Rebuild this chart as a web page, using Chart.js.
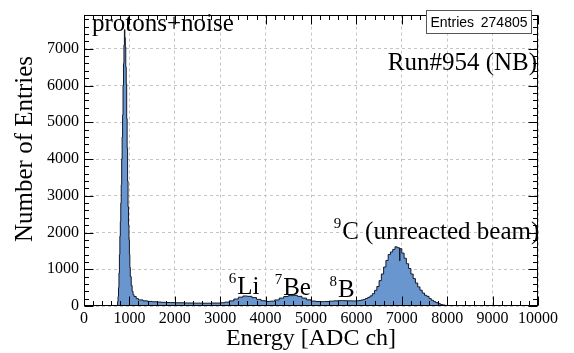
<!DOCTYPE html>
<html>
<head>
<meta charset="utf-8">
<title>Run#954 energy spectrum</title>
<script src="https://cdn.jsdelivr.net/npm/chart.js@4.4.0/dist/chart.umd.min.js"></script>
<style>
    html, body { margin: 0; padding: 0; background: #fff; }
    #wrap { width: 574px; height: 353px; position: relative; }
</style>
</head>
<body>
<div id="wrap"><canvas id="spectrum"></canvas></div>
<script>
// histogram: left edge of each bin [ADC ch] and its content
const binLow = [
    0, 720, 740, 750, 760, 770, 780, 790, 800, 810,
    820, 830, 840, 850, 860, 870, 880, 890, 900, 910,
    920, 930, 940, 950, 960, 970, 980, 990, 1000, 1010,
    1020, 1040, 1060, 1080, 1100, 1150, 1200, 1300, 1400, 1500,
    1600, 1700, 1800, 1900, 2000, 2200, 2400, 2600, 2800, 3000,
    3100, 3200, 3300, 3400, 3500, 3600, 3700, 3800, 3900, 4000,
    4100, 4200, 4300, 4400, 4500, 4600, 4700, 4800, 4900, 5000,
    5100, 5200, 5300, 5400, 5500, 5600, 5700, 5800, 5900, 6000,
    6050, 6100, 6150, 6200, 6250, 6300, 6350, 6400, 6450, 6500,
    6550, 6600, 6650, 6700, 6750, 6800, 6850, 6900, 6950, 6960,
    7000, 7050, 7100, 7150, 7200, 7250, 7300, 7350, 7400, 7450,
    7500, 7550, 7600, 7650, 7700, 7750, 7800, 7850, 7900, 7950,
    8000, 8100, 8300, 8600, 9200, 10000
];
const counts = [
    0, 15, 120, 260, 500, 900, 1400, 1900, 2300, 2800,
    3300, 4000, 4600, 5200, 6000, 6600, 7100, 7520, 7300, 7050,
    6500, 6050, 5100, 4300, 3400, 2700, 2200, 1800, 1400, 1050,
    800, 560, 400, 310, 260, 200, 165, 140, 125, 115,
    108, 100, 95, 92, 88, 82, 78, 76, 80, 88,
    105, 140, 190, 240, 272, 262, 228, 180, 145, 125,
    132, 165, 215, 258, 282, 290, 262, 215, 168, 135,
    122, 118, 122, 132, 140, 146, 144, 140, 138, 142,
    150, 162, 178, 205, 235, 275, 335, 425, 530, 690,
    870, 1060, 1240, 1400, 1470, 1540, 1610, 1585, 1230, 1560,
    1440, 1300, 1150, 1020, 870, 745, 625, 520, 430, 352,
    292, 262, 200, 155, 118, 92, 64, 42, 27, 17,
    11, 7, 4, 2, 1, 0
];

const xTicks = [0, 1000, 2000, 3000, 4000, 5000, 6000, 7000, 8000, 9000, 10000];
const yTicks = [0, 1000, 2000, 3000, 4000, 5000, 6000, 7000];
const yMax = 7930;
const entries = 274805;

// text placed in data coordinates: [superscript, text, x, y, align]
const notes = [
    ["", "protons+noise", 176, 7490, "left"],
    ["", "Run#954 (NB)", 9980, 6430, "right"],
    ["6", "Li", 3190, 320, "left"],
    ["7", "Be", 4200, 293, "left"],
    ["8", "B", 5410, 240, "left"],
    ["9", "C (unreacted beam)", 5500, 1813, "left"]
];

const serif = "'Liberation Serif', 'Times New Roman', serif";

// ROOT-like frame with ticks on all four sides, plus labels and stats box
const rootFrame = {
    id: "rootFrame",
    afterDraw(chart) {
        const { ctx, chartArea: a, scales: { x, y } } = chart;
        const L = Math.round(a.left) + 0.5, R = Math.round(a.right) - 0.5;
        const T = Math.round(a.top) + 0.5, B = Math.round(a.bottom) - 0.5;

        ctx.save();
        ctx.strokeStyle = "#000";
        ctx.lineWidth = 1;
        ctx.beginPath();
        for (let v = 0; v <= 10000; v += 200) {
            const px = Math.round(x.getPixelForValue(v)) + 0.5;
            const len = v % 1000 === 0 ? 9 : 4.5;
            ctx.moveTo(px, B); ctx.lineTo(px, B - len);
            ctx.moveTo(px, T); ctx.lineTo(px, T + len);
        }
        for (let v = 0; v <= yMax; v += 200) {
            const py = Math.round(y.getPixelForValue(v)) + 0.5;
            const len = v % 1000 === 0 ? 9 : 4.5;
            ctx.moveTo(L, py); ctx.lineTo(L + len, py);
            ctx.moveTo(R, py); ctx.lineTo(R - len, py);
        }
        ctx.stroke();
        ctx.strokeRect(L, T, R - L, B - T);

        // y axis title, a bit above centre like ROOT
        ctx.fillStyle = "#000";
        ctx.save();
        ctx.translate(25, 149);
        ctx.rotate(-Math.PI / 2);
        ctx.font = "25px " + serif;
        ctx.textAlign = "center";
        ctx.textBaseline = "middle";
        ctx.fillText("Number of Entries", 0, 0);
        ctx.restore();

        // annotations
        ctx.textBaseline = "alphabetic";
        notes.forEach(([sup, text, vx, vy, align]) => {
            let px = x.getPixelForValue(vx);
            const py = y.getPixelForValue(vy);
            ctx.font = "25px " + serif;
            const w = ctx.measureText(text).width;
            ctx.font = "15px " + serif;
            const sw = sup ? ctx.measureText(sup).width + 1 : 0;
            if (align === "right") px -= w + sw;
            if (sup) {
                ctx.textAlign = "left";
                ctx.fillText(sup, px, py - 11);
            }
            ctx.font = "25px " + serif;
            ctx.textAlign = "left";
            ctx.fillText(text, px + sw, py);
        });

        // stats box
        const bx = 426.5, by = 10.5, bw = 105, bh = 23;
        ctx.fillStyle = "#fff";
        ctx.fillRect(bx, by, bw, bh);
        ctx.strokeStyle = "#555";
        ctx.strokeRect(bx, by, bw, bh);
        ctx.fillStyle = "#000";
        ctx.font = "14px 'Liberation Sans', Arial, sans-serif";
        ctx.textBaseline = "middle";
        ctx.textAlign = "left";
        ctx.fillText("Entries", bx + 4, by + bh / 2 + 1);
        ctx.textAlign = "right";
        ctx.fillText(String(entries), bx + bw - 4, by + bh / 2 + 1);
        ctx.restore();
    }
};

const points = binLow.map((v, i) => ({ x: v, y: counts[i] }));

new Chart(document.getElementById("spectrum"), {
    type: "line",
    data: {
        datasets: [{
            label: "Energy",
            data: points,
            stepped: "before",
            fill: "origin",
            backgroundColor: "#6a96d0",
            borderColor: "#141826",
            borderWidth: 1,
            pointRadius: 0,
            tension: 0
        }]
    },
    options: {
        responsive: true,
        maintainAspectRatio: false,
        animation: false,
        layout: { padding: { top: 8, right: 36, left: 0, bottom: 0 } },
        plugins: {
            legend: { display: false },
            tooltip: { enabled: false }
        },
        scales: {
            x: {
                type: "linear",
                min: 0,
                max: 10000,
                afterBuildTicks: (s) => { s.ticks = xTicks.map(v => ({ value: v })); },
                afterFit: (s) => { s.height = 47; },
                ticks: {
                    color: "#000",
                    font: { family: serif, size: 16 },
                    padding: 3,
                    maxRotation: 0,
                    autoSkip: false,
                    callback: (v) => String(v)
                },
                grid: { color: "#c4c4c4", lineWidth: 1, drawTicks: false },
                border: { display: false, dash: [3, 3] },
                title: {
                    display: true,
                    text: "Energy [ADC ch]",
                    color: "#000",
                    font: { family: serif, size: 24 },
                    padding: { top: 0, bottom: 0 }
                }
            },
            y: {
                type: "linear",
                min: 0,
                max: yMax,
                afterBuildTicks: (s) => { s.ticks = yTicks.map(v => ({ value: v })); },
                afterFit: (s) => { s.width = 84; },
                ticks: {
                    color: "#000",
                    font: { family: serif, size: 16 },
                    padding: 5,
                    callback: (v) => String(v)
                },
                grid: { color: "#c4c4c4", lineWidth: 1, drawTicks: false },
                border: { display: false, dash: [3, 3] }
            }
        }
    },
    plugins: [rootFrame]
});
</script>
</body>
</html>
